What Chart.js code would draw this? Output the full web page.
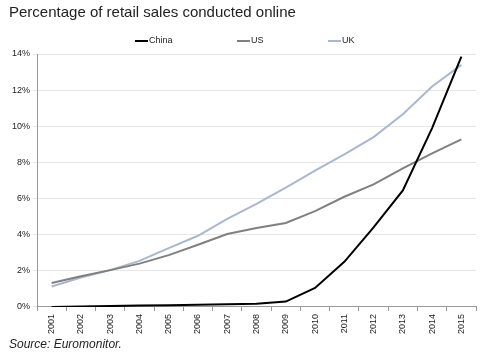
<!DOCTYPE html>
<html>
<head>
<meta charset="utf-8">
<script src="https://cdn.jsdelivr.net/npm/chart.js@4"></script>
<style>
  html, body { margin: 0; padding: 0; background: #fff; }
  #wrap { position: relative; width: 488px; height: 358px; }
  #source { position: absolute; left: 9px; top: 337px; font: italic 12px "Liberation Sans", Arial, sans-serif; color: #222; }
</style>
</head>
<body>
<div id="wrap">
  <canvas id="chart" width="488" height="358"></canvas>
  <div id="source">Source: Euromonitor.</div>
</div>
<script>
const years = ['2001','2002','2003','2004','2005','2006','2007','2008','2009','2010','2011','2012','2013','2014','2015'];
const china = [0.0, 0.02, 0.05, 0.08, 0.1, 0.12, 0.15, 0.18, 0.3, 1.05, 2.5, 4.4, 6.45, 9.9, 13.85];
const us = [1.33, 1.7, 2.04, 2.4, 2.87, 3.44, 4.04, 4.37, 4.65, 5.3, 6.1, 6.78, 7.67, 8.5, 9.28];
const uk = [1.13, 1.63, 2.04, 2.55, 3.26, 3.94, 4.87, 5.7, 6.6, 7.55, 8.45, 9.4, 10.67, 12.2, 13.4];
const yTicks = [0, 2, 4, 6, 8, 10, 12, 14];

// legend drawn by hand: items are spread wide apart, chart.js legend padding would push the plot down
const spreadLegend = {
  id: 'spreadLegend',
  afterDraw(chart) {
    const c = chart.ctx;
    const starts = [135, 237, 328];
    c.save();
    c.font = '9px "Liberation Sans"';
    c.textBaseline = 'middle';
    chart.data.datasets.forEach((ds, i) => {
      const x = starts[i];
      const y = 41;
      c.strokeStyle = ds.borderColor;
      c.lineWidth = 2;
      c.beginPath();
      c.moveTo(x, y);
      c.lineTo(x + 13, y);
      c.stroke();
      c.fillStyle = '#222';
      c.fillText(ds.label, x + 14, y);
    });
    c.restore();
  }
};

const ctx = document.getElementById('chart').getContext('2d');

new Chart(ctx, {
  type: 'line',
  data: {
    labels: years,
    datasets: [
      { label: 'China', data: china, borderColor: '#000000', backgroundColor: '#000000', borderWidth: 2 },
      { label: 'US', data: us, borderColor: '#808080', backgroundColor: '#808080', borderWidth: 2 },
      { label: 'UK', data: uk, borderColor: '#a9b8cf', backgroundColor: '#a9b8cf', borderWidth: 2 }
    ]
  },
  options: {
    responsive: false,
    animation: false,
    elements: { point: { radius: 0 }, line: { tension: 0 } },
    layout: { padding: { left: 9, right: 12, top: 0, bottom: 21 } },
    plugins: {
      title: {
        display: true,
        text: 'Percentage of retail sales conducted online',
        align: 'start',
        color: '#222',
        font: { family: 'Liberation Sans', size: 15, weight: 'normal' },
        padding: { top: 4, bottom: 32 }
      },
      legend: { display: false },
      tooltip: { enabled: false }
    },
    scales: {
      x: {
        offset: true,
        grid: { display: true, drawOnChartArea: false, offset: true, tickLength: 4, color: '#999' },
        border: { color: '#999' },
        ticks: {
          maxRotation: 90, minRotation: 90, autoSkip: false,
          color: '#222',
          font: { family: 'Liberation Sans', size: 9 }
        }
      },
      y: {
        min: 0, max: 14,
        afterBuildTicks: axis => { axis.ticks = yTicks.map(v => ({ value: v })); },
        grid: { color: '#e6e6e6', tickLength: 4 },
        border: { color: '#999' },
        ticks: {
          color: '#222',
          font: { family: 'Liberation Sans', size: 9 },
          padding: 3,
          callback: v => v + '%'
        }
      }
    }
  },
  plugins: [spreadLegend]
});
</script>
</body>
</html>
